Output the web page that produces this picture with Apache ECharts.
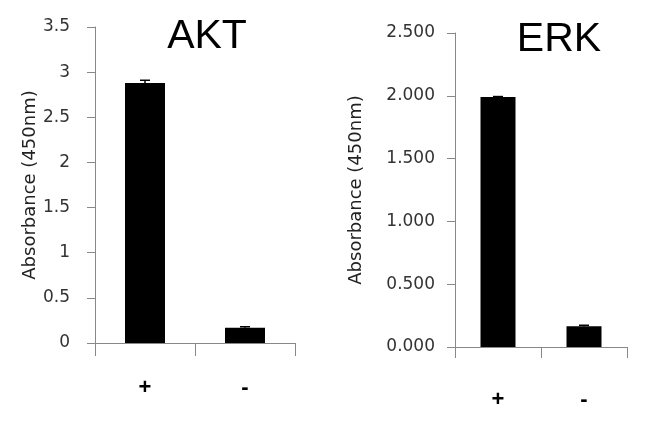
<!DOCTYPE html>
<html>
<head>
<meta charset="utf-8">
<script src="https://cdn.jsdelivr.net/npm/echarts@6/dist/echarts.min.js"></script>
<style>
html,body{margin:0;padding:0;background:#fff;}
#chart{width:650px;height:430px;}
</style>
</head>
<body>
<div id="chart"></div>
<script>
var categories = ['+', '-'];
var aktValues = [2.88, 0.17];
var aktErrors = [0.03, 0.01];
var erkValues = [1.99, 0.165];
var erkErrors = [0.004, 0.008];
var titles = ['AKT', 'ERK'];
var yName = 'Absorbance (450nm)';

var chart = echarts.init(document.getElementById('chart'), null, {renderer: 'canvas'});

function errRender(params, api) {
  var x = api.value(0);
  var v = api.value(1);
  var e = api.value(2);
  var p0 = api.coord([x, v]);
  var p1 = api.coord([x, v + e]);
  var hw = 5;
  return {
    type: 'group',
    children: [
      {type: 'line', shape: {x1: p0[0], y1: p0[1], x2: p1[0], y2: p1[1]}, style: {stroke: '#000', lineWidth: 1.5}},
      {type: 'line', shape: {x1: p1[0] - hw, y1: p1[1], x2: p1[0] + hw, y2: p1[1]}, style: {stroke: '#000', lineWidth: 1.5}}
    ]
  };
}

function xAxisCfg(gi, margin, tickLen) {
  return {
    type: 'category', gridIndex: gi, data: categories,
    axisLine: {lineStyle: {color: '#888', width: 1}},
    axisTick: {show: true, length: tickLen, lineStyle: {color: '#888'}},
    axisLabel: {margin: margin, fontFamily: 'Liberation Sans', fontWeight: 'bold', fontSize: 22, color: '#000'},
    splitLine: {show: false}
  };
}
function yAxisCfg(gi, max, interval, digits, labelMargin, nameGap) {
  return {
    type: 'value', gridIndex: gi, min: 0, max: max, interval: interval,
    name: yName, nameLocation: 'middle', nameGap: nameGap,
    nameTextStyle: {fontFamily: 'DejaVu Sans', fontSize: 18, color: '#222'},
    axisLine: {show: true, lineStyle: {color: '#888', width: 1}},
    axisTick: {show: true, length: 8, lineStyle: {color: '#888'}},
    axisLabel: {margin: labelMargin, fontFamily: 'DejaVu Sans', fontSize: 17, color: '#333',
      formatter: function (v) { return digits ? v.toFixed(digits) : String(v); }},
    splitLine: {show: false}
  };
}

var option = {
  backgroundColor: '#fff',
  animation: false,
  title: [
    {text: titles[0], left: 202, top: 11, textAlign: 'center', textStyle: {fontFamily: 'Liberation Sans', fontSize: 41, fontWeight: 'normal', color: '#000'}},
    {text: titles[1], left: 554, top: 14, textAlign: 'center', textStyle: {fontFamily: 'Liberation Sans', fontSize: 41, fontWeight: 'normal', color: '#000'}}
  ],
  grid: [
    {left: 95, top: 27, width: 200, height: 316},
    {left: 455, top: 33, width: 172, height: 314}
  ],
  xAxis: [xAxisCfg(0, 34, 13), xAxisCfg(1, 42, 11)],
  yAxis: [yAxisCfg(0, 3.5, 0.5, 0, 25, 47), yAxisCfg(1, 2.5, 0.5, 3, 20, 90)],
  series: [
    {type: 'bar', xAxisIndex: 0, yAxisIndex: 0, data: aktValues, barWidth: 40, itemStyle: {color: '#000'}},
    {type: 'custom', xAxisIndex: 0, yAxisIndex: 0, renderItem: errRender,
      data: categories.map(function (c, i) { return [i, aktValues[i], aktErrors[i]]; }), z: 5},
    {type: 'bar', xAxisIndex: 1, yAxisIndex: 1, data: erkValues, barWidth: 35, itemStyle: {color: '#000'}},
    {type: 'custom', xAxisIndex: 1, yAxisIndex: 1, renderItem: errRender,
      data: categories.map(function (c, i) { return [i, erkValues[i], erkErrors[i]]; }), z: 5}
  ]
};
chart.setOption(option);
</script>
</body>
</html>
